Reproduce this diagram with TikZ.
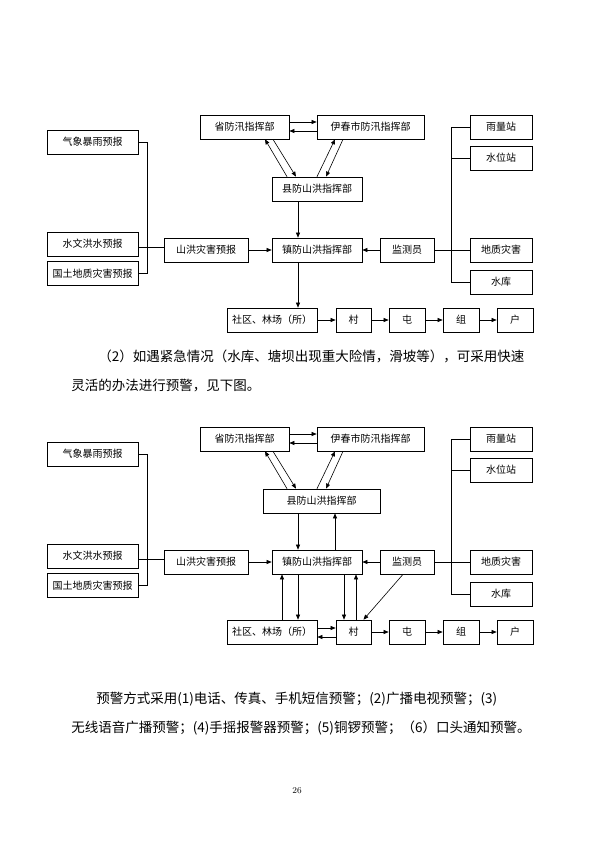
\documentclass[tikz,border=0pt]{standalone}
\usepackage{fontspec}
\newfontfamily\cjk{Noto Sans CJK SC}
\usetikzlibrary{arrows.meta}
\XeTeXlinebreaklocale "zh"
\XeTeXlinebreakskip=0pt plus 3pt

\tikzset{
  box/.style={draw, line width=0.7pt, minimum height=24pt, inner sep=0pt, font=\cjk\fontsize{10}{12}\selectfont},
  arr/.style={-{Triangle[length=5pt,width=4pt]}},
  link/.style={line width=0.6pt},
  para/.style={anchor=west, inner sep=0pt, font=\cjk\fontsize{13.5}{16}\selectfont},
}

\begin{document}
\begin{tikzpicture}[x=1pt, y=-1pt, link]
  \fill[white] (0,0) rectangle (595,842);
  \useasboundingbox (0,0) rectangle (595,842);
  % both charts share the same boxes, the lower one sits 312pt further down
  \foreach \d/\y/\xc/\xw in {a/0/317/90, b/312/321.5/117} {
    \node[box, minimum width=89pt] (\d-sheng) at (244.5,127+\y) {省防汛指挥部};
    \node[box, minimum width=107pt] (\d-yichun) at (370.5,127+\y) {伊春市防汛指挥部};
    \node[box, minimum width=\xw pt] (\d-xian) at (\xc,189+\y) {县防山洪指挥部};
    \node[box, minimum width=90pt] (\d-zhen) at (317,250+\y) {镇防山洪指挥部};
    \node[box, minimum width=84pt] (\d-shanhong) at (206,250+\y) {山洪灾害预报};
    \node[box, minimum width=54pt] (\d-jiance) at (407,250+\y) {监测员};
    % forecasts on the left
    \node[box, minimum width=91pt] (\d-qixiang) at (92.5,142+\y) {气象暴雨预报};
    \node[box, minimum width=91pt] (\d-shuiwen) at (92.5,244+\y) {水文洪水预报};
    \node[box, minimum width=91pt] (\d-guotu) at (92.5,273.5+\y) {国土地质灾害预报};
    % stations on the right
    \node[box, minimum width=62pt] (\d-yuliang) at (501,127+\y) {雨量站};
    \node[box, minimum width=62pt] (\d-shuiwei) at (501,158+\y) {水位站};
    \node[box, minimum width=62pt] (\d-dizhi) at (501,250+\y) {地质灾害};
    \node[box, minimum width=62pt] (\d-shuiku) at (501,282+\y) {水库};
    % bottom row
    \node[box, minimum width=90pt] (\d-shequ) at (272,320+\y) {社区、林场（所）};
    \node[box, minimum width=35pt] (\d-cun) at (353.5,320+\y) {村};
    \node[box, minimum width=36pt] (\d-tun) at (407,320+\y) {屯};
    \node[box, minimum width=36pt] (\d-zu) at (461,320+\y) {组};
    \node[box, minimum width=36pt] (\d-hu) at (515,320+\y) {户};
    % top links
    \draw[arr] ([yshift=5pt]\d-sheng.east) -- ([yshift=5pt]\d-yichun.west);
    \draw[arr] ([yshift=-4pt]\d-yichun.west) -- ([yshift=-4pt]\d-sheng.east);
    \draw[arr] ([xshift={(287-\xc)*1pt}]\d-xian.north) -- ([xshift=20.5pt]\d-sheng.south);
    \draw[arr] ([xshift=28.5pt]\d-sheng.south) -- ([xshift={(296-\xc)*1pt}]\d-xian.north);
    \draw[arr] ([xshift={(317-\xc)*1pt}]\d-xian.north) -- ([xshift=-35.5pt]\d-yichun.south);
    \draw[arr] ([xshift=-27.5pt]\d-yichun.south) -- ([xshift={(326-\xc)*1pt}]\d-xian.north);
    \draw[arr] ([xshift={(298-\xc)*1pt}]\d-xian.south) -- ([xshift=-19pt]\d-zhen.north);
    % side links
    \draw (\d-qixiang.east) -- ++(9,0) |- (\d-guotu.east);
    \draw ([yshift=-3pt]\d-shuiwen.east) -- ([yshift=-3pt]\d-shuiwen.east -| \d-shanhong.west);
    \draw[arr] (\d-shanhong.east) -- (\d-zhen.west);
    \draw (\d-yuliang.west) -- ++(-18,0) |- (\d-shuiku.west);
    \draw (\d-shuiwei.west) -- ++(-18,0);
    \draw (\d-jiance.east) -- (\d-dizhi.west);
    \draw[arr] (\d-jiance.west) -- (\d-zhen.east);
    % down to the households
    \draw[arr] ([xshift=-19pt]\d-zhen.south) -- ([xshift=26pt]\d-shequ.north);
    \draw[arr] (\d-cun) -- (\d-tun);
    \draw[arr] (\d-tun) -- (\d-zu);
    \draw[arr] (\d-zu) -- (\d-hu);
  }
  % upper chart
  \draw[arr] (a-shequ) -- (a-cun);
  % lower chart: the quick way back up
  \draw[arr] ([xshift=18pt]b-zhen.north) -- ([xshift=13.5pt]b-xian.south);
  \draw[arr] ([xshift=10pt]b-shequ.north) -- ([xshift=-35pt]b-zhen.south);
  \draw[arr] ([xshift=27pt]b-zhen.south) -- ([xshift=-9.5pt]b-cun.north);
  \draw[arr] ([xshift=2.5pt]b-cun.north) -- ([xshift=39pt]b-zhen.south);
  \draw[arr] ([xshift=-4pt]b-jiance.south) -- ([xshift=10pt]b-cun.north);
  \draw[arr] ([yshift=4pt]b-shequ.east) -- ([yshift=4pt]b-cun.west);
  \draw[arr] ([yshift=-5pt]b-cun.west) -- ([yshift=-5pt]b-shequ.east);
  % running text
  \node[para, text width=432pt, align=justify] (p1a) at (98,356) {\parfillskip=0pt （2）如遇紧急情况（水库、塘坝出现重大险情，滑坡等），可采用快速};
  \node[para] (p1b) at (71,386) {灵活的办法进行预警，见下图。};
  \node[para, text width=434pt, align=justify] (p2a) at (96,699) {\parfillskip=0pt 预警方式采用(1)电话、传真、手机短信预警；(2)广播电视预警；(3)};
  \node[para] (p2b) at (71,728) {无线语音广播预警；(4)手摇报警器预警；(5)铜锣预警；（6）口头通知预警。};
  \node[font=\fontsize{9}{11}\selectfont] (page) at (297,791) {26};
\end{tikzpicture}
\end{document}
